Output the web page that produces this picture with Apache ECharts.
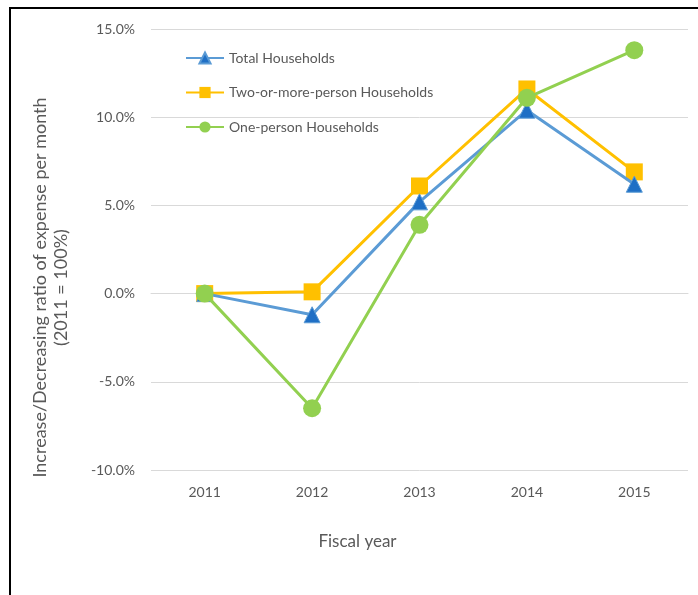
<!DOCTYPE html>
<html>
<head>
<meta charset="utf-8">
<script src="https://cdn.jsdelivr.net/npm/echarts@6/dist/echarts.min.js"></script>
<style>
html,body{margin:0;padding:0;background:#fff;}
#chart{width:698px;height:595px;}
</style>
</head>
<body>
<div id="chart"></div>
<script>
var categories = ['2011', '2012', '2013', '2014', '2015'];
var totalHouseholds = [0.0, -1.2, 5.2, 10.4, 6.2];
var twoOrMoreHouseholds = [0.0, 0.1, 6.1, 11.6, 6.9];
var onePersonHouseholds = [0.0, -6.5, 3.9, 11.1, 13.8];
var seriesNames = ['Total Households', 'Two-or-more-person Households', 'One-person Households'];
var yTicks = {min: -10, max: 15, interval: 5};

var FONT = 'Lato, "Open Sans", sans-serif';
var GRAY = '#595959';

var chart = echarts.init(document.getElementById('chart'), null, {renderer: 'canvas'});
chart.setOption({
  animation: false,
  backgroundColor: '#fff',
  textStyle: {fontFamily: FONT},
  graphic: [{
    type: 'rect',
    shape: {x: 10, y: 8, width: 720, height: 620},
    style: {fill: 'none', stroke: '#000', lineWidth: 2},
    silent: true,
    z: 100
  }],
  legend: {
    orient: 'vertical',
    left: 180,
    top: 46,
    itemWidth: 38,
    itemHeight: 14,
    itemGap: 20.5,
    textStyle: {color: GRAY, fontSize: 14, fontFamily: FONT},
    data: seriesNames
  },
  grid: {left: 151, right: 10, top: 29, bottom: 125},
  xAxis: {
    type: 'category',
    data: categories,
    boundaryGap: true,
    name: 'Fiscal year',
    nameLocation: 'middle',
    nameGap: 63,
    nameTextStyle: {color: GRAY, fontSize: 17, fontFamily: FONT, padding: [0, 124, 0, 0]},
    axisLine: {show: true, lineStyle: {color: '#D9D9D9', width: 1}},
    axisTick: {show: false},
    axisLabel: {color: GRAY, fontSize: 14, margin: 15, fontFamily: FONT}
  },
  yAxis: {
    type: 'value',
    min: yTicks.min,
    max: yTicks.max,
    interval: yTicks.interval,
    name: 'Increase/Decreasing ratio of expense per month\n(2011 = 100%)',
    nameLocation: 'middle',
    nameGap: 79,
    nameRotate: 90,
    nameTextStyle: {color: GRAY, fontSize: 18, lineHeight: 21, fontFamily: FONT, align: 'center', padding: [0, 76, 0, 0]},
    axisLine: {show: false},
    axisTick: {show: false},
    splitLine: {lineStyle: {color: '#D9D9D9', width: 1}},
    axisLabel: {
      color: GRAY, fontSize: 14, margin: 16, fontFamily: FONT,
      formatter: function (v) { return v.toFixed(1) + '%'; }
    }
  },
  series: [
    {
      name: seriesNames[0],
      type: 'line',
      data: totalHouseholds,
      symbol: 'triangle',
      symbolSize: 16,
      lineStyle: {color: '#5B9BD5', width: 3},
      itemStyle: {color: '#1F6FC5', borderColor: '#5B9BD5', borderWidth: 1},
      color: '#5B9BD5',
      z: 3
    },
    {
      name: seriesNames[1],
      type: 'line',
      data: twoOrMoreHouseholds,
      symbol: 'rect',
      symbolSize: 17,
      lineStyle: {color: '#FFC000', width: 3},
      itemStyle: {color: '#FFC000'},
      color: '#FFC000',
      z: 2
    },
    {
      name: seriesNames[2],
      type: 'line',
      data: onePersonHouseholds,
      symbol: 'circle',
      symbolSize: 18,
      lineStyle: {color: '#92D050', width: 3},
      itemStyle: {color: '#92D050'},
      color: '#92D050',
      z: 4
    }
  ]
});
</script>
</body>
</html>
